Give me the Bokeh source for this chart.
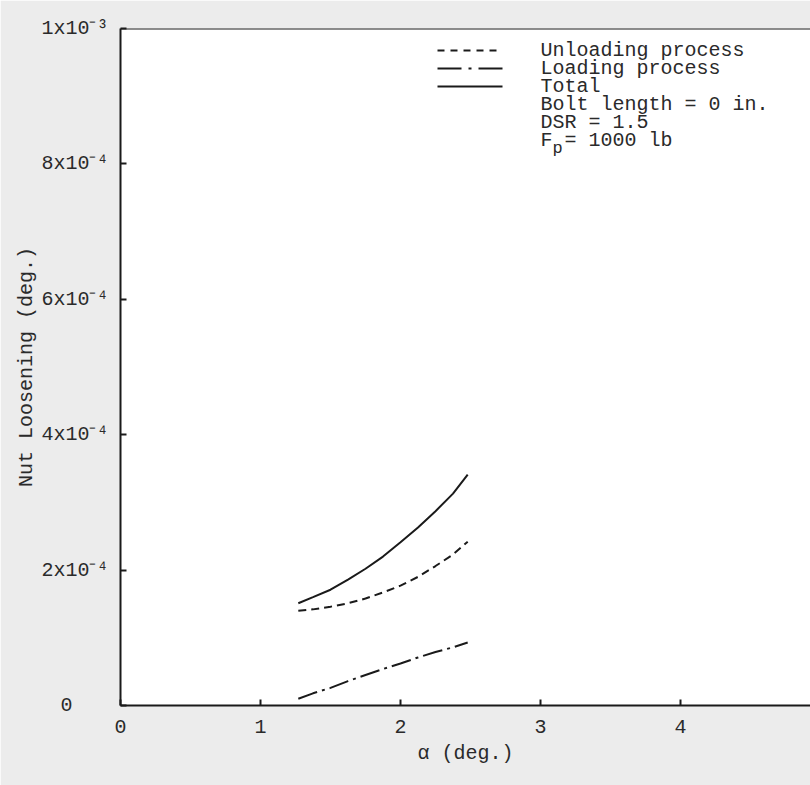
from bokeh.plotting import figure
from bokeh.models import Range1d, Span, Label, FixedTicker, CustomJSTickFormatter
from bokeh.embed import file_html
from bokeh.resources import INLINE

# ---- data ----
alpha = [1.27, 1.375, 1.5, 1.625, 1.75, 1.875, 2.0, 2.125, 2.25, 2.375, 2.48]
total = [1.51e-4, 1.60e-4, 1.71e-4, 1.86e-4, 2.02e-4, 2.20e-4, 2.41e-4, 2.63e-4, 2.87e-4, 3.13e-4, 3.41e-4]
unloading = [1.40e-4, 1.42e-4, 1.46e-4, 1.51e-4, 1.58e-4, 1.67e-4, 1.77e-4, 1.90e-4, 2.06e-4, 2.23e-4, 2.42e-4]
loading = [0.10e-4, 0.18e-4, 0.26e-4, 0.36e-4, 0.45e-4, 0.54e-4, 0.62e-4, 0.71e-4, 0.79e-4, 0.86e-4, 0.93e-4]

x_ticks = [0, 1, 2, 3, 4]
y_ticks = [0, 2e-4, 4e-4, 6e-4, 8e-4, 1e-3]
y_tick_labels = ["0\u00a0\u00a0\u00a0", "2x10\u207b\u2074", "4x10\u207b\u2074", "6x10\u207b\u2074",
                 "8x10\u207b\u2074", "1x10\u207b\u00b3"]

legend_lines = ["Unloading process", "Loading process", "Total"]
notes = ["Bolt length = 0 in.", "DSR = 1.5"]

FONT = "Liberation Mono"
FS = "20px"
INK = "#1a1a1a"
TXT = "#2a2a2a"

# ---- layout ----
W, H = 810, 785
LEFT, TOP = 120, 28
FRAME_BOTTOM = 705
BOTTOM = H - FRAME_BOTTOM
frame_w = W - LEFT
frame_h = FRAME_BOTTOM - TOP
x_end = frame_w / 140.0
y_end = 1e-3

p = figure(width=W, height=H, output_backend="svg", toolbar_location=None,
           x_range=Range1d(0, x_end), y_range=Range1d(0, y_end),
           min_border_left=LEFT, min_border_top=TOP, min_border_bottom=BOTTOM,
           min_border_right=0)
p.background_fill_color = "#ffffff"
p.border_fill_color = "#ececec"
p.outline_line_color = None
p.grid.visible = False

# pixel position inside the canvas -> data units (legend placement only)
def px_x(px):
    return (px - LEFT) / frame_w * x_end

def px_y(py):
    return (FRAME_BOTTOM - py) / frame_h * y_end

for ax in (p.xaxis[0], p.yaxis[0]):
    ax.axis_line_width = 2
    ax.axis_line_color = INK
    ax.major_tick_in = 6
    ax.major_tick_out = 0
    ax.major_tick_line_width = 2
    ax.major_tick_line_color = INK
    ax.minor_tick_line_color = None
    ax.major_label_text_font = FONT
    ax.major_label_text_font_size = FS
    ax.major_label_text_color = TXT
    ax.axis_label_text_font = FONT
    ax.axis_label_text_font_size = FS
    ax.axis_label_text_font_style = "normal"
    ax.axis_label_text_color = TXT

p.xaxis.ticker = FixedTicker(ticks=x_ticks)
p.xaxis.major_label_standoff = 14
p.xaxis.axis_label = "α (deg.)"
p.xaxis.axis_label_standoff = 6

p.yaxis.ticker = FixedTicker(ticks=y_ticks)
p.yaxis.formatter = CustomJSTickFormatter(
    args=dict(vals=y_ticks, labels=y_tick_labels),
    code="""
    for (let i = 0; i < vals.length; i++) {
        if (Math.abs(vals[i] - tick) < 1e-12) { return labels[i]; }
    }
    return "";
    """)
p.yaxis.major_label_standoff = 12
p.yaxis.axis_label = "Nut Loosening (deg.)"
p.yaxis.axis_label_standoff = 0

p.add_layout(Span(location=y_end, dimension="width", line_color=INK, line_width=2))

# curves
p.line(alpha, unloading, line_color=INK, line_width=2, line_dash="8 5")
p.line(alpha, loading, line_color=INK, line_width=2, line_dash="20 5 3 5")
p.line(alpha, total, line_color=INK, line_width=2)

# legend block
styles = ["7 6", "24 7 3 7", "solid"]
row0, step = 50, 18
for i, (lab, dash) in enumerate(zip(legend_lines, styles)):
    yy = px_y(row0 + i * step)
    p.line([px_x(437), px_x(502)], [yy, yy], line_color=INK, line_width=2, line_dash=dash)
    p.add_layout(Label(x=px_x(540), y=yy, text=lab, text_baseline="middle",
                       text_font=FONT, text_font_size=FS, text_color=TXT))
for j, note in enumerate(notes):
    yy = px_y(row0 + (3 + j) * step)
    p.add_layout(Label(x=px_x(540), y=yy, text=note, text_baseline="middle",
                       text_font=FONT, text_font_size=FS, text_color=TXT))
yy = px_y(row0 + 5 * step)
p.add_layout(Label(x=px_x(540), y=yy, text="F  = 1000 lb", text_baseline="middle",
                   text_font=FONT, text_font_size=FS, text_color=TXT))
p.add_layout(Label(x=px_x(540), y=yy, x_offset=12, y_offset=-8, text="p", text_baseline="middle",
                   text_font=FONT, text_font_size="17px", text_color=TXT))

open("out.html", "w").write(file_html(p, INLINE))
